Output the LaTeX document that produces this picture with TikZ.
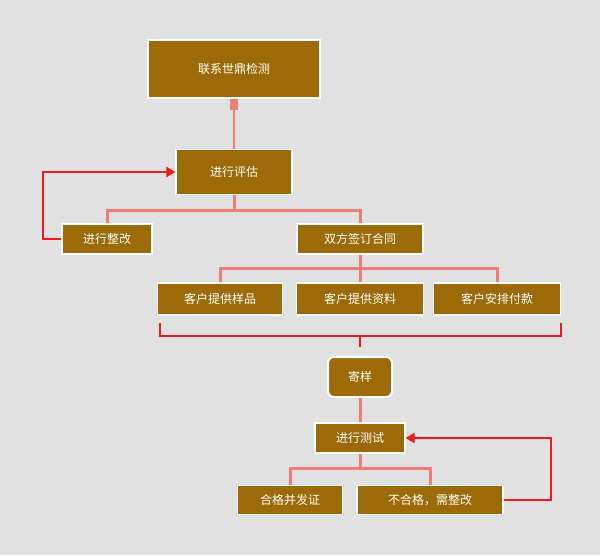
\documentclass[tikz,border=0pt]{standalone}
\usepackage{fontspec}
\setmainfont{Noto Sans CJK SC}
\usetikzlibrary{arrows.meta}
\definecolor{bg}{HTML}{E1E1E1}
\definecolor{brn}{HTML}{9C6A06}
\definecolor{pk}{HTML}{F47C74}
\definecolor{rd}{HTML}{F01A1A}
\tikzset{
  box/.style={draw=white,line width=1.2pt,fill=brn,text=white,font=\fontsize{12}{14}\selectfont,inner sep=0pt,anchor=center},
  pl/.style={draw=pk,line width=3pt},
  rl/.style={draw=rd,line width=2.5pt},
}
\begin{document}
\begin{tikzpicture}[x=1pt,y=-1pt]
\fill[bg] (0,0) rectangle (600,555);
\useasboundingbox (0,0) rectangle (600,555);
\node[box,minimum width=172,minimum height=58] (a) at (234,69) {联系世鼎检测};
\node[box,minimum width=116,minimum height=45] (b) at (234,172) {进行评估};
\node[box,minimum width=90,minimum height=30] (c) at (107,239) {进行整改};
\node[box,minimum width=126,minimum height=30] (d) at (360,239) {双方签订合同};
\node[box,minimum width=125,minimum height=32] (e) at (220,299) {客户提供样品};
\node[box,minimum width=127,minimum height=32] (f) at (360,299) {客户提供资料};
\node[box,minimum width=127,minimum height=32] (g) at (497,299) {客户安排付款};
\node[box,rounded corners=6pt,line width=2pt,minimum width=64,minimum height=40] (h) at (360,377) {寄样};
\node[box,minimum width=90,minimum height=30] (i) at (360,438) {进行测试};
\node[box,minimum width=105,minimum height=29] (j) at (290,500) {合格并发证};
\node[box,minimum width=146,minimum height=29] (k) at (430,500) {不合格，需整改};
% connectors
\fill[pk] (230,99) rectangle (238,110);
\draw[pl,line width=2pt] (a.south) -- (b.north);
\draw[pl] (b.south) -- (234,210);
\draw[pl] (c.north) -- (107,210) -- (360,210) -- (d.north);
\draw[pl] (d.south) -- (360,268);
\draw[pl] (e.north) -- (220,268) -- (497,268) -- (g.north);
\draw[pl] (360,268) -- (f.north);
\draw[rd,line width=1.5pt] (160,323) -- (160,336) -- (561,336) -- (561,323);
\draw[rd,line width=1.5pt] (360,336) -- (360,347);
\draw[pl] (h.south) -- (i.north);
\draw[pl] (i.south) -- (360,468);
\draw[pl] (j.north) -- (290,468) -- (430,468) -- (k.north);
\draw[rl,-{Triangle[length=9pt,width=10pt]}] (c.west) -- (43,239) -- (43,172) -- (b.west);
\draw[rl,-{Triangle[length=9pt,width=10pt]}] (k.east) -- (551,500) -- (551,438) -- (i.east);
\end{tikzpicture}
\end{document}
